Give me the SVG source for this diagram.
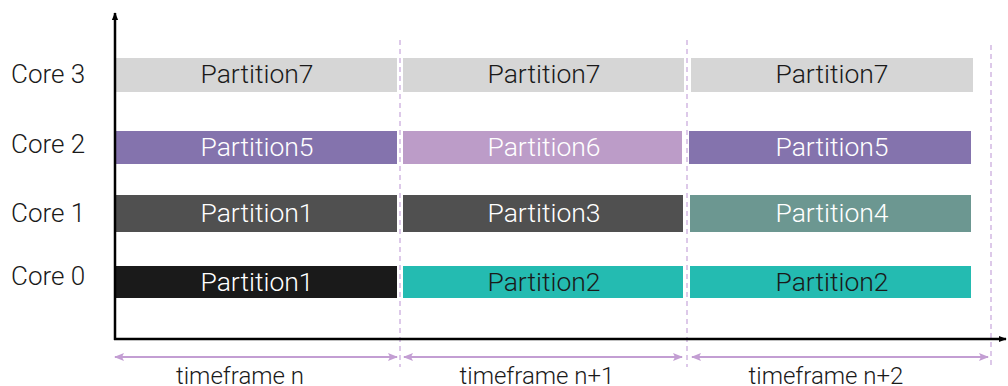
<svg xmlns="http://www.w3.org/2000/svg" width="1008" height="386" viewBox="0 0 1008 386">
<defs>
<marker id="ah" viewBox="0 0 10 10" refX="9" refY="5" markerWidth="8" markerHeight="8" markerUnits="userSpaceOnUse" orient="auto"><path d="M0,1 L10,5 L0,9 z" fill="#000"/></marker>
<marker id="pa" viewBox="0 0 10 10" refX="9" refY="5" markerWidth="12" markerHeight="10" markerUnits="userSpaceOnUse" orient="auto-start-reverse"><path d="M0,1 L10,5 L0,9 L2,5 z" fill="#c39ed3"/></marker>
</defs>
<style>
text{font-family:Roboto,"Liberation Sans",sans-serif;font-weight:300}
.p{font-size:26.5px;text-anchor:middle}
.c{font-size:26px;fill:#1a1a1a}
.t{font-size:24px;text-anchor:middle;fill:#1a1a1a}
.w{fill:#ffffff}
.d{fill:#1a1a1a}
.div{stroke:#d2b8e2;stroke-width:1.5;stroke-dasharray:5,4;fill:none}
.span{stroke:#c39ed3;stroke-width:2;fill:none}
</style>
<rect width="1008" height="386" fill="#fff"/>
<g id="labels">
<text class="c" x="11" y="83">Core 3</text>
<text class="c" x="11" y="153">Core 2</text>
<text class="c" x="11" y="222">Core 1</text>
<text class="c" x="11" y="285">Core 0</text>
</g>
<g id="core3">
<rect x="116" y="58" width="281" height="34" fill="#d6d6d6"/><text class="p d" x="257" y="83">Partition7</text>
<rect x="403" y="58" width="281" height="34" fill="#d6d6d6"/><text class="p d" x="544" y="83">Partition7</text>
<rect x="691" y="58" width="282" height="34" fill="#d6d6d6"/><text class="p d" x="832" y="83">Partition7</text>
</g>
<g id="core2">
<rect x="116" y="131" width="281" height="33" fill="#8473ad"/><text class="p w" x="257" y="156">Partition5</text>
<rect x="403" y="131" width="279" height="33" fill="#bc9cc8"/><text class="p w" x="544" y="156">Partition6</text>
<rect x="689" y="131" width="282" height="33" fill="#8473ad"/><text class="p w" x="832" y="156">Partition5</text>
</g>
<g id="core1">
<rect x="116" y="195" width="281" height="37" fill="#505050"/><text class="p w" x="257" y="222">Partition1</text>
<rect x="403" y="195" width="280" height="37" fill="#505050"/><text class="p w" x="544" y="222">Partition3</text>
<rect x="690" y="195" width="281" height="37" fill="#6c9791"/><text class="p w" x="832" y="222">Partition4</text>
</g>
<g id="core0">
<rect x="116" y="266" width="281" height="32" fill="#1a1a1a"/><text class="p w" x="257" y="291">Partition1</text>
<rect x="403" y="266" width="280" height="32" fill="#24bbb1"/><text class="p d" x="544" y="291">Partition2</text>
<rect x="690" y="266" width="281" height="32" fill="#24bbb1"/><text class="p d" x="832" y="291">Partition2</text>
</g>
<g id="connectors">
<line class="div" x1="400" y1="40" x2="400" y2="367"/>
<line class="div" x1="687" y1="40" x2="687" y2="367"/>
<line class="div" x1="991" y1="45" x2="991" y2="367"/>
<line x1="115" y1="340" x2="115" y2="13" stroke="#000" stroke-width="2.5" marker-end="url(#ah)"/>
<line x1="114" y1="339" x2="1006" y2="339" stroke="#000" stroke-width="2.5" marker-end="url(#ah)"/>
<line class="span" x1="115" y1="357" x2="397" y2="357" marker-start="url(#pa)" marker-end="url(#pa)"/>
<line class="span" x1="404" y1="357" x2="682" y2="357" marker-start="url(#pa)" marker-end="url(#pa)"/>
<line class="span" x1="692" y1="357" x2="988" y2="357" marker-start="url(#pa)" marker-end="url(#pa)"/>
</g>
<g id="timeframes">
<text class="t" x="240" y="384">timeframe n</text>
<text class="t" x="537" y="384">timeframe n+1</text>
<text class="t" x="826" y="384">timeframe n+2</text>
</g>
</svg>
